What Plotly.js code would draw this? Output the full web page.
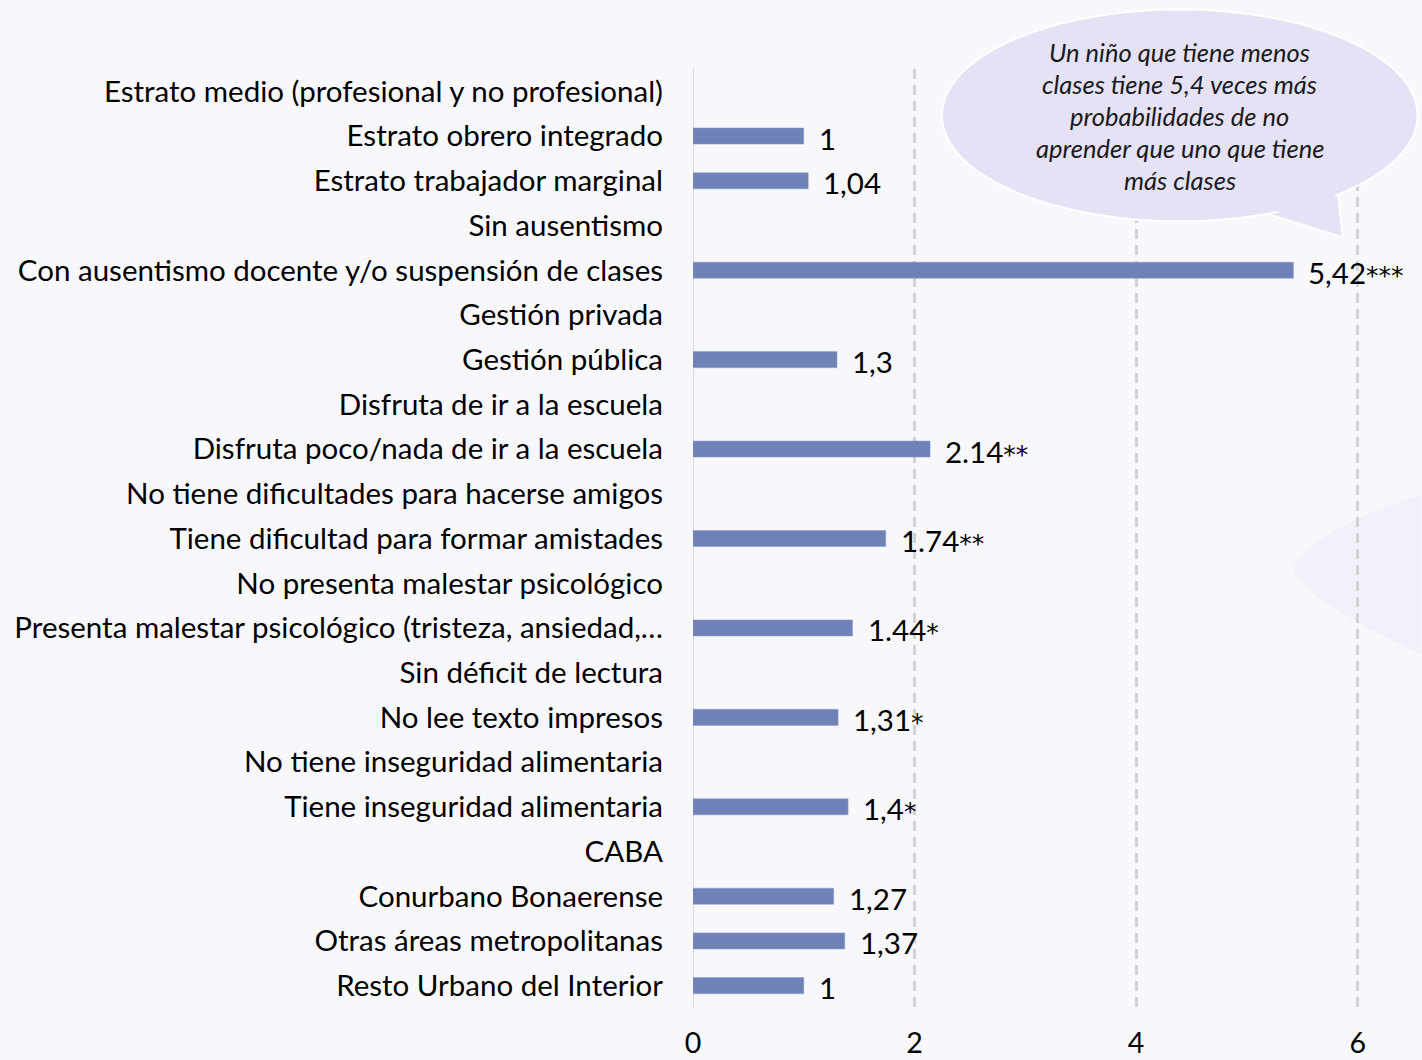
<!DOCTYPE html>
<html>
<head>
<meta charset="utf-8">
<script src="https://cdn.plot.ly/plotly-3.0.1.min.js"></script>
<style>
  html, body { margin: 0; padding: 0; background: #f8f8fc; }
  #chart { width: 1422px; height: 1060px; }
</style>
</head>
<body>
<div id="chart"></div>
<script>
const categories = [
  "Estrato medio (profesional y no profesional)",
  "Estrato obrero integrado",
  "Estrato trabajador marginal",
  "Sin ausentismo",
  "Con ausentismo docente y/o suspensión de clases",
  "Gestión privada",
  "Gestión pública",
  "Disfruta de ir a la escuela",
  "Disfruta poco/nada de ir a la escuela",
  "No tiene dificultades para hacerse amigos",
  "Tiene dificultad para formar amistades",
  "No presenta malestar psicológico",
  "Presenta malestar psicológico (tristeza, ansiedad,…",
  "Sin déficit de lectura",
  "No lee texto impresos",
  "No tiene inseguridad alimentaria",
  "Tiene inseguridad alimentaria",
  "CABA",
  "Conurbano Bonaerense",
  "Otras áreas metropolitanas",
  "Resto Urbano del Interior"
];
const values = [null, 1, 1.04, null, 5.42, null, 1.3, null, 2.14, null, 1.74, null, 1.44, null, 1.31, null, 1.4, null, 1.27, 1.37, 1];
const valueLabels = ["", "1", "1,04", "", "5,42***", "", "1,3", "", "2.14**", "", "1.74**", "", "1.44*", "", "1,31*", "", "1,4*", "", "1,27", "1,37", "1"];
const xTicks = [0, 2, 4, 6];
const calloutLines = [
  "Un niño que tiene menos",
  "clases tiene 5,4 veces más",
  "probabilidades de no",
  "aprender que uno que tiene",
  "más clases"
];

const FONT = "Lato, 'Open Sans', sans-serif";
const FS = 29.5;

const trace = {
  type: "bar",
  orientation: "h",
  x: values,
  y: categories,
  width: 0.36,
  marker: { color: "#6f82b8", line: { color: "#8a9acb", width: 0.5 } },
  hoverinfo: "x+y"
};

function styleLabel(s) {
  return s.replace(/(\*+)/, '<span style="font-family:DejaVu Sans;font-size:25px">$1</span>');
}

const annotations = [];
values.forEach((v, i) => {
  if (v !== null) {
    annotations.push({
      x: v, y: categories[i], xref: "x", yref: "y",
      text: styleLabel(valueLabels[i]), showarrow: false,
      xanchor: "left", yanchor: "middle", xshift: 13, yshift: -2,
      font: { family: FONT, size: FS, color: "#000" }
    });
  }
});

const L = 693, X6 = 1358, T = 68.6, B = 1008.4;
const XMAX = 6.03;
const R = L + (X6 - L) * XMAX / 6;
const px = x => (x - L) / (R - L);
const py = y => (B - y) / (B - T);

const cx = 1180, cy = 115, rx = 238, ry = 106;
let d = "";
const steps = 120;
for (let k = 0; k <= steps; k++) {
  const a = -Math.PI + (2 * Math.PI * k) / steps;
  const X = cx + rx * Math.cos(a);
  const Y = cy - ry * Math.sin(a);
  d += (k === 0 ? "M" : "L") + px(X).toFixed(5) + "," + py(Y).toFixed(5) + " ";
}
d += "Z";
const tail = "M" + px(1262).toFixed(5) + "," + py(212).toFixed(5) +
  " L" + px(1343).toFixed(5) + "," + py(237).toFixed(5) +
  " L" + px(1338).toFixed(5) + "," + py(190).toFixed(5) +
  " L" + px(1300).toFixed(5) + "," + py(200).toFixed(5) + " Z";

const shapes = [
  {
    type: "path", xref: "paper", yref: "paper", layer: "below",
    path: "M" + px(1422) + "," + py(495) + " C" + px(1350) + "," + py(515) + " " + px(1285) + "," + py(555) + " " + px(1295) + "," + py(575) +
      " C" + px(1310) + "," + py(600) + " " + px(1380) + "," + py(635) + " " + px(1422) + "," + py(655) + " Z",
    fillcolor: "#f1f1f9", line: { width: 0 }
  },
  {
    type: "path", xref: "paper", yref: "paper", layer: "above",
    path: tail, fillcolor: "#e6e2f6", line: { color: "#ffffff", width: 2 }
  },
  {
    type: "path", xref: "paper", yref: "paper", layer: "above",
    path: d, fillcolor: "#e6e2f6", line: { color: "#ffffff", width: 2 }
  },
  {
    type: "path", xref: "paper", yref: "paper", layer: "above",
    path: "M" + px(1266).toFixed(5) + "," + py(207).toFixed(5) + " L" + px(1335).toFixed(5) + "," + py(192).toFixed(5) + " L" + px(1340).toFixed(5) + "," + py(232).toFixed(5) + " Z",
    fillcolor: "#e6e2f6", line: { width: 0 }
  }
];

calloutLines.forEach((t, i) => {
  annotations.push({
    x: px(1180), y: py(52 + 32 * i), xref: "paper", yref: "paper",
    text: "<i>" + t + "</i>", showarrow: false,
    xanchor: "center", yanchor: "middle",
    font: { family: FONT, size: 25.5, color: "#1a1a1a" }
  });
});

const layout = {
  width: 1422, height: 1060,
  margin: { l: L, r: 1422 - R, t: T, b: 1060 - B, pad: 0 },
  paper_bgcolor: "#f8f8fc",
  plot_bgcolor: "rgba(0,0,0,0)",
  showlegend: false,
  font: { family: FONT, size: FS, color: "#000" },
  xaxis: {
    range: [0, XMAX],
    tickvals: xTicks,
    ticktext: xTicks.map(String),
    showgrid: true,
    gridcolor: "#d2d2d2",
    gridwidth: 3,
    griddash: "10px,6px",
    zeroline: false,
    showline: false,
    ticks: "",
    ticklabelstandoff: 15,
    tickfont: { family: FONT, size: 28.5, color: "#000" },
    fixedrange: true
  },
  yaxis: {
    type: "category",
    categoryorder: "array",
    categoryarray: categories,
    autorange: "reversed",
    showgrid: false,
    zeroline: false,
    showline: false,
    ticks: "",
    ticklabelstandoff: 29,
    tickfont: { family: FONT, size: FS, color: "#000" },
    fixedrange: true
  },
  shapes: [
    {
      type: "line", xref: "x", yref: "paper", x0: 0, x1: 0, y0: 0, y1: 1,
      line: { color: "#d9d9d9", width: 2 }, layer: "below"
    }
  ].concat(shapes),
  annotations: annotations
};

Plotly.newPlot("chart", [trace], layout, { displayModeBar: false, staticPlot: true });
</script>
</body>
</html>
